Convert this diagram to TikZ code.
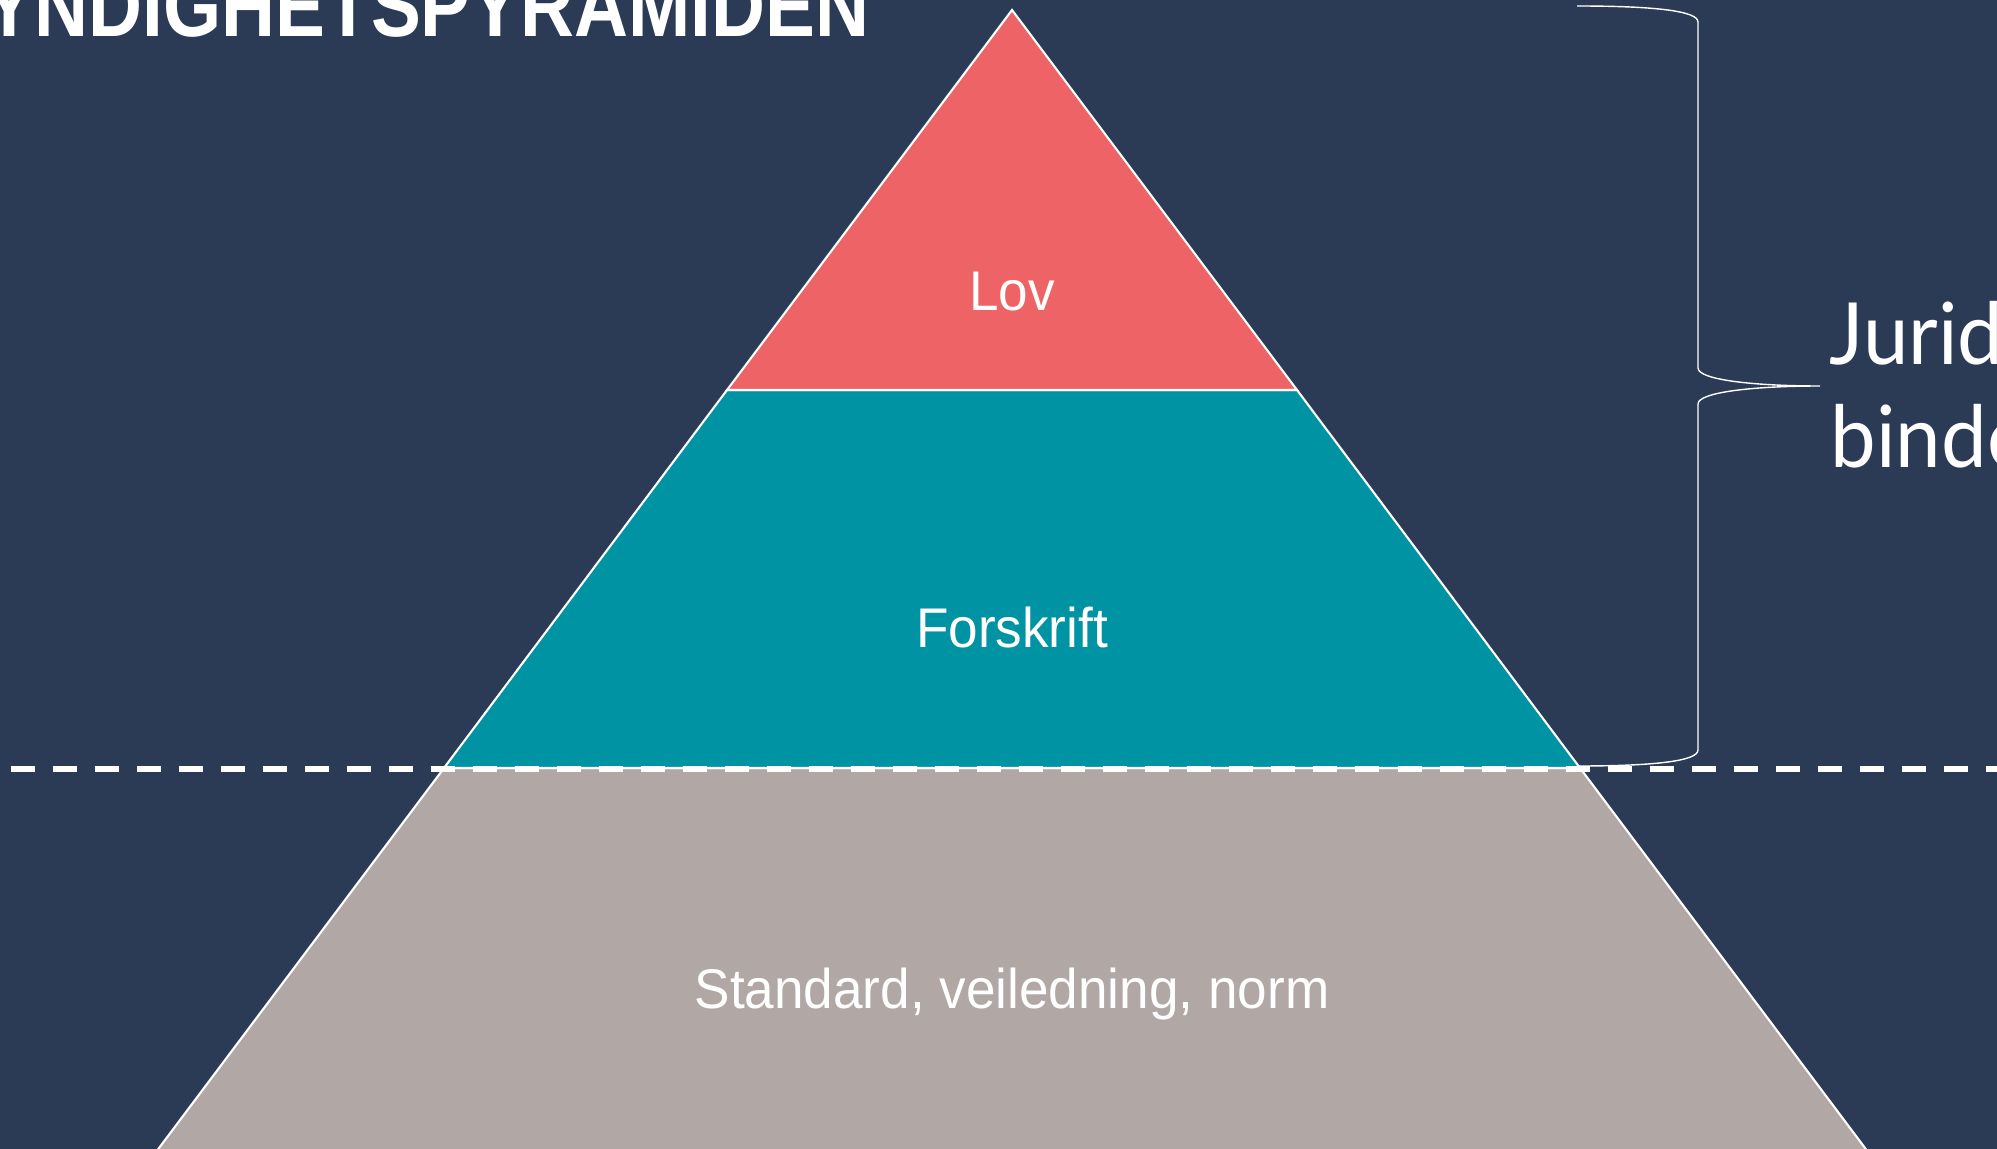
\documentclass[tikz,border=0pt]{standalone}
\usepackage{graphicx}
\usepackage{fontspec}
\setmainfont{Liberation Sans}
\newfontfamily\tierfont{Liberation Sans}[FakeStretch=0.95]
\newfontfamily\bracefont{Lato}[FakeStretch=0.95]
\usetikzlibrary{positioning}

\definecolor{navybg}{HTML}{2B3A55}
\definecolor{lovred}{HTML}{EE6365}
\definecolor{forteal}{HTML}{0093A3}
\definecolor{stdgrey}{HTML}{B1A8A6}

\begin{document}
\begin{tikzpicture}[
    x=0.01cm, y=-0.01cm,
    layer/.style={draw=white, line width=0.6pt},
    tier/.style={text=white, inner sep=0pt, anchor=base,
      font=\tierfont\fontsize{15.9}{19}\selectfont},
    bracket/.style={draw=white, line width=0.4pt},
    cutline/.style={draw=white, line width=1.7pt, dash pattern=on 6.83pt off 5.12pt},
    sidetext/.style={text=white, inner sep=0pt, anchor=base west,
      font=\bracefont\fontsize{24.4}{29}\selectfont}
  ]
    \fill[navybg] (0,0) rectangle (1997,1149);
    \useasboundingbox (0,0) rectangle (1997,1149);
    \clip (0,0) rectangle (1997,1149);

    % corners of the pyramid
    \coordinate (apex) at (1012,10);
    \coordinate (lovL) at (727,390);
    \coordinate (lovR) at (1297,390);
    \coordinate (forL) at (444,768);
    \coordinate (forR) at (1580,768);
    \coordinate (baseL) at (150,1160);
    \coordinate (baseR) at (1874,1160);

    \filldraw[layer, fill=stdgrey] (forL) -- (forR) -- (baseR) -- (baseL) -- cycle;
    \filldraw[layer, fill=forteal] (lovL) -- (lovR) -- (forR) -- (forL) -- cycle;
    \filldraw[layer, fill=lovred] (apex) -- (lovR) -- (lovL) -- cycle;

    \node[tier] (lov) at (1012,311) {Lov};
    \node[tier] (forskrift) at (1012,647) {Forskrift};
    \node[tier] (standard) at (1012,1008) {Standard, veiledning, norm};

    % dashed border
    \coordinate (cutL) at (10.7,769);
    \coordinate (cutR) at (2010,769);
    \draw[cutline] (cutL) -- (cutR);

    % curly bracket
    \coordinate (braceTop) at (1577,6);
    \coordinate (braceTip) at (1820,386);
    \coordinate (braceBot) at (1578,766);
    \draw[bracket] (braceTop) .. controls (1655,6) and (1698,11) .. (1698,22)
      -- (1698,368) .. controls (1698,380) and (1755,386) .. (braceTip)
      .. controls (1755,386) and (1698,392) .. (1698,404)
      -- (1698,750) .. controls (1698,761) and (1655,766) .. (braceBot);

    \node[sidetext] (jur1) at (1829,365) {Juridisk};
    \node[sidetext] (jur2) at (1830,468) {bindende};

    \node[anchor=base east, text=white, inner sep=0pt,
      font=\fontsize{25}{30}\selectfont\bfseries] (title) at (870,37)
      {\scalebox{0.85}[1]{MYNDIGHETSPYRAMIDEN}};
\end{tikzpicture}
\end{document}
